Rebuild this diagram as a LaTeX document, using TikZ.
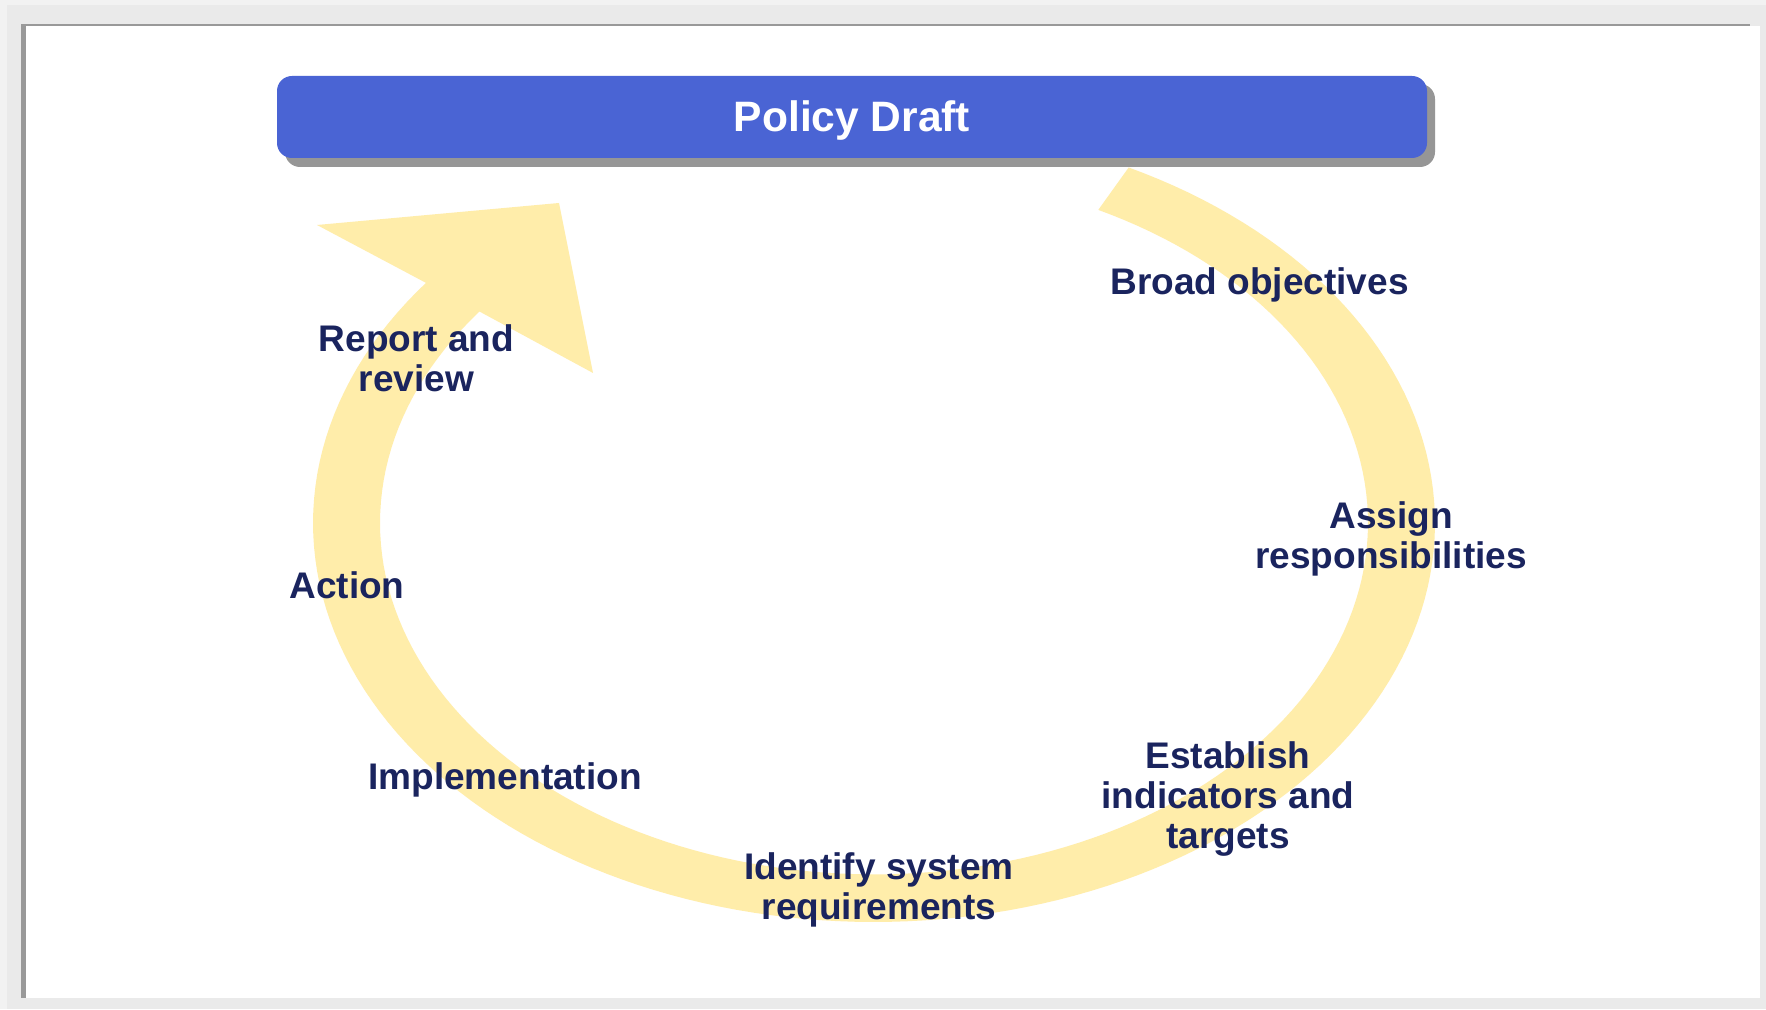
\documentclass[tikz,border=0pt]{standalone}
\usepackage{fontspec}
\setmainfont{Liberation Sans}
\definecolor{pagegray}{RGB}{234,234,234}
\definecolor{pagelight}{RGB}{242,242,242}
\definecolor{framegray}{RGB}{153,153,153}
\definecolor{barblue}{RGB}{74,100,212}
\definecolor{shadowgray}{RGB}{150,150,150}
\definecolor{ringyellow}{RGB}{255,237,170}
\definecolor{navy}{RGB}{26,36,94}
\tikzset{
  steplabel/.style={font=\bfseries\fontsize{31.6pt}{34.5pt}\selectfont, text=navy, align=center, inner sep=0pt, anchor=base},
  titlelabel/.style={font=\bfseries\fontsize{36.3pt}{40pt}\selectfont, text=white, inner sep=0pt, anchor=base},
}
\begin{document}
\begin{tikzpicture}[x=0.03cm,y=0.03cm]
\useasboundingbox (0,0) rectangle (1766,1009);
% page frame
\fill[pagegray] (0,0) rectangle (1766,1009);
\fill[pagelight] (0,1004) rectangle (1766,1009);
\fill[pagelight] (0,0) rectangle (7,1009);
\fill[white] (26,11) rectangle (1760,983);
\fill[framegray] (21,983) rectangle (1750,985);
\fill[framegray] (21,11) rectangle (26,985);
% title bar
\fill[shadowgray, rounded corners=0.45cm] (285,842) rectangle (1435,925);
\fill[barblue, rounded corners=0.45cm] (277,851) rectangle (1427,933);
\node[titlelabel] (title) at (852,877) {Policy Draft};
% circular arrow
\fill[ringyellow]
  plot[variable=\t, domain=0:280, samples=160] ({874+561*cos(63-\t)},{486+399*sin(63-\t)})
  -- (317,784) -- (559,806) -- (593,636)
  -- plot[variable=\t, domain=0:280, samples=160] ({874+494*cos(-217+\t)},{486+351.4*sin(-217+\t)})
  -- cycle;
% labels (anchor = baseline of the last line)
\node[steplabel] (broad) at (1259.5,714) {Broad objectives};
\node[steplabel] (assign) at (1391,440) {Assign\\responsibilities};
\node[steplabel] (establish) at (1228,160) {Establish\\indicators and\\targets};
\node[steplabel] (identify) at (879,89) {Identify system\\requirements};
\node[steplabel] (impl) at (505,219) {Implementation};
\node[steplabel] (action) at (347,410) {Action};
\node[steplabel] (report) at (416.5,617) {Report and\\review};
\end{tikzpicture}
\end{document}
